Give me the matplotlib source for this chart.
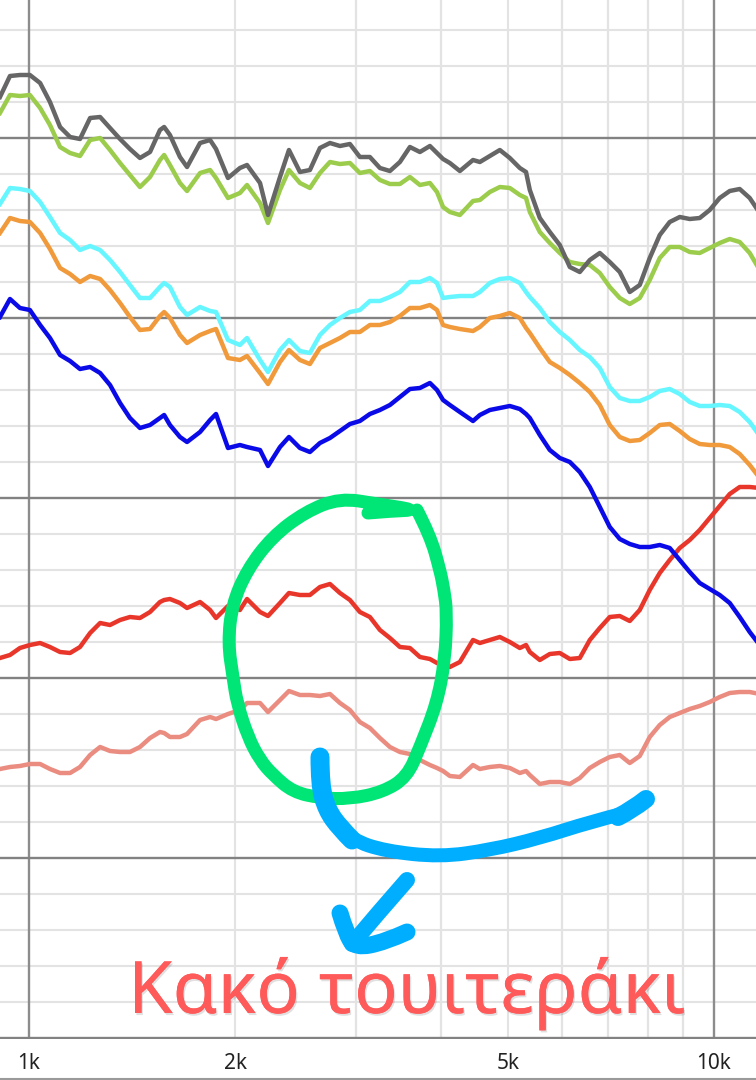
import matplotlib
matplotlib.use("Agg")
import matplotlib.pyplot as plt
import matplotlib.patheffects as pe
from matplotlib.path import Path
from matplotlib.patches import PathPatch

# Frequency grid (Hz)
freq = [907, 938, 970, 1003, 1038, 1073, 1110, 1148, 1187, 1228, 1270, 1313, 1358, 1404, 1452, 1502,
        1553, 1575, 1606, 1661, 1701, 1777, 1838, 1875, 1952, 2032, 2081, 2174, 2233, 2325, 2396, 2486,
        2571, 2659, 2750, 2844, 2941, 3041, 3145, 3253, 3364, 3479, 3598, 3721, 3848, 3941, 4022, 4115,
        4256, 4448, 4552, 4707, 4868, 5034, 5206, 5316, 5384, 5568, 5758, 5955, 6159, 6369, 6587, 6812,
        7044, 7285, 7534, 7791, 8057, 8333, 8617, 8912, 9216, 9531, 9857, 10194, 10542, 10902, 11275, 11660]

# Curves, read as depth below the top edge of the unlabelled plot area
gray = [97, 76, 75, 75, 83, 102, 127, 137, 139, 118, 117, 128, 139, 149, 158, 152,
        130, 127, 135, 157, 167, 143, 140, 149, 178, 168, 165, 183, 215, 177, 150, 172,
        170, 148, 143, 146, 144, 157, 157, 168, 171, 162, 147, 152, 146, 153, 159, 163,
        171, 160, 162, 156, 150, 158, 168, 172, 190, 218, 232, 245, 267, 272, 260, 253,
        262, 272, 292, 285, 258, 235, 222, 217, 219, 218, 210, 198, 191, 189, 198, 213]
green = [113, 95, 96, 95, 108, 125, 147, 153, 156, 140, 138, 150, 163, 175, 187, 177,
         160, 155, 165, 183, 191, 173, 170, 178, 198, 193, 185, 203, 223, 190, 170, 183,
         188, 173, 162, 164, 163, 173, 171, 180, 184, 184, 177, 185, 183, 192, 207, 212,
         215, 201, 200, 192, 187, 188, 195, 198, 212, 232, 243, 253, 262, 264, 265, 273,
         287, 298, 304, 298, 280, 258, 247, 247, 252, 253, 248, 243, 239, 242, 253, 270]
cyan = [204, 188, 189, 191, 202, 217, 233, 240, 250, 246, 250, 260, 272, 285, 298, 298,
        287, 283, 287, 307, 315, 307, 311, 312, 340, 345, 338, 360, 372, 350, 340, 351,
        353, 335, 325, 318, 312, 310, 301, 301, 297, 292, 282, 282, 278, 283, 298, 297,
        296, 296, 292, 283, 279, 278, 283, 292, 297, 308, 322, 332, 340, 350, 357, 368,
        387, 398, 401, 401, 397, 391, 389, 394, 402, 406, 406, 405, 406, 412, 422, 436]
orange = [233, 218, 221, 222, 233, 249, 268, 274, 282, 276, 279, 290, 303, 317, 330, 329,
          316, 312, 318, 335, 343, 335, 331, 329, 358, 360, 356, 373, 384, 362, 350, 360,
          364, 348, 343, 338, 332, 332, 325, 325, 322, 316, 308, 308, 305, 310, 325, 327,
          329, 331, 327, 318, 316, 313, 318, 328, 333, 348, 362, 368, 375, 383, 392, 405,
          425, 437, 441, 440, 433, 425, 424, 431, 439, 444, 445, 445, 447, 454, 465, 478]
blue = [317, 299, 308, 310, 325, 338, 355, 361, 369, 367, 373, 385, 403, 418, 428, 425,
        418, 415, 425, 437, 442, 432, 420, 414, 448, 445, 447, 450, 466, 447, 437, 448,
        452, 443, 438, 431, 424, 421, 414, 410, 405, 397, 389, 388, 383, 390, 400, 405,
        412, 421, 415, 410, 408, 406, 409, 414, 418, 435, 450, 458, 462, 472, 487, 507,
        527, 539, 544, 547, 547, 545, 548, 560, 572, 583, 589, 595, 603, 617, 632, 645]
red = [658, 655, 648, 645, 643, 647, 652, 653, 647, 633, 623, 625, 620, 617, 618, 612,
       602, 600, 599, 603, 608, 602, 610, 618, 606, 610, 599, 612, 616, 603, 593, 595,
       595, 587, 584, 593, 600, 612, 617, 630, 638, 647, 648, 657, 659, 663, 665, 667,
       662, 640, 643, 640, 637, 642, 648, 645, 652, 660, 654, 653, 659, 658, 640, 628,
       617, 616, 621, 610, 590, 573, 560, 548, 540, 530, 518, 506, 494, 487, 487, 488]
pink = [769, 767, 766, 764, 764, 769, 773, 773, 767, 755, 747, 751, 752, 752, 747, 738,
        732, 733, 737, 737, 734, 720, 717, 719, 714, 710, 703, 703, 712, 700, 691, 695,
        695, 696, 694, 703, 710, 722, 728, 738, 747, 752, 754, 760, 765, 768, 771, 776,
        777, 765, 769, 767, 766, 768, 773, 771, 775, 784, 782, 782, 784, 778, 768, 762,
        757, 755, 763, 756, 737, 725, 717, 713, 709, 706, 702, 697, 693, 692, 692, 694]

tick_freqs = [1000, 2000, 5000, 10000]
tick_labels = ["1k", "2k", "5k", "10k"]
minor_freqs = [2000, 3000, 4000, 5000, 6000, 7000, 8000, 9000]
major_levels = [138, 318, 498, 678, 858, 1038]
minor_levels = [30, 66, 102, 174, 210, 246, 282, 354, 390, 426, 462, 534, 570, 606, 642,
                714, 750, 786, 822, 894, 930, 966, 1002]
caption = "Κακό τουιτεράκι"

# Hand-drawn marker strokes on the picture (image units)
circle_x = [368, 392, 417, 378, 340, 305, 272, 247, 232, 228, 233, 237, 248, 260, 273, 293, 320, 350,
            383, 407, 420, 437, 445, 447, 444, 440, 430, 417]
circle_y = [513, 511, 510, 504, 498, 512, 537, 570, 605, 643, 677, 703, 737, 760, 775, 792, 798, 799,
            792, 777, 747, 703, 660, 613, 590, 570, 535, 510]
swoosh_a_x = [320, 320, 327, 340, 352]
swoosh_a_y = [757, 785, 810, 828, 840]
swoosh_b_x = [340, 352, 385, 440, 490, 540, 590, 625]
swoosh_b_y = [828, 840, 851, 857, 850, 838, 822, 813]
swoosh_c_x = [618, 632, 646]
swoosh_c_y = [817, 810, 799]
shaft_x = [407, 378, 352]
shaft_y = [880, 913, 944]
head_x = [340, 346, 355, 385, 407]
head_y = [913, 933, 948, 942, 932]
base_x = [0, 756]
base_y = [1079, 1079]

fig = plt.figure(figsize=(7.56, 10.8), dpi=100, facecolor="white")
ax = fig.add_axes([0, 41 / 1080, 1, 1039 / 1080])
ax.set_xscale("log")
ax.set_xlim(907.1, 11516)
ax.set_ylim(1039, 0)

ax.set_xticks(tick_freqs)
ax.set_xticklabels(tick_labels, fontsize=15, family="Noto Sans", color="#222222")
ax.set_xticks(minor_freqs, minor=True)
ax.set_xticklabels([""] * len(minor_freqs), minor=True)
ax.set_yticks(major_levels)
ax.set_yticklabels([])
ax.set_yticks(minor_levels, minor=True)
ax.tick_params(which="both", length=0, pad=10)
ax.grid(which="minor", color="#e3e3e3", lw=1.5, zorder=1)
ax.set_axisbelow(True)
for f in minor_freqs:
    ax.axvline(f, color="#e3e3e3", lw=1.5, zorder=1)
for f in (1000, 10000):
    ax.axvline(f, color="#8c8c8c", lw=1.7, zorder=1.5)
for lv in major_levels:
    ax.axhline(lv, color="#828282", lw=1.7, zorder=1.5)
for s in ax.spines.values():
    s.set_visible(False)

for series, col in [(pink, "#ea8c80"), (red, "#e8362b"), (orange, "#f09a3c"),
                    (cyan, "#66f6ff"), (blue, "#0a0ae8"), (green, "#9ccc4c"), (gray, "#666666")]:
    ax.plot(freq, series, color=col, lw=3.2, solid_joinstyle="round", zorder=3)

over = fig.add_axes([0, 0, 1, 1], facecolor="none")
over.set_xlim(0, 756)
over.set_ylim(1080, 0)
over.axis("off")
px = 0.72


def stroke(xs, ys, color, width):
    """Draw a hand-drawn stroke as a quadratic curve through the stroke's vertices."""
    verts = [(xs[0], ys[0])]
    codes = [Path.MOVETO]
    for i in range(1, len(xs) - 1):
        verts.append((xs[i], ys[i]))
        codes.append(Path.CURVE3)
        end = (xs[-1], ys[-1]) if i == len(xs) - 2 else ((xs[i] + xs[i + 1]) / 2, (ys[i] + ys[i + 1]) / 2)
        verts.append(end)
        codes.append(Path.CURVE3)
    over.add_patch(PathPatch(Path(verts, codes), facecolor="none", edgecolor=color,
                             lw=width * px, capstyle="round", joinstyle="round"))


over.plot(base_x, base_y, color="#9a9a9a", lw=1.5)
stroke(circle_x, circle_y, "#00e676", 13)
stroke(swoosh_a_x, swoosh_a_y, "#00aeff", 19)
stroke(swoosh_b_x, swoosh_b_y, "#00aeff", 14)
stroke(swoosh_c_x, swoosh_c_y, "#00aeff", 18)
stroke(shaft_x, shaft_y, "#00aeff", 16)
stroke(head_x, head_y, "#00aeff", 17)
t = over.text(128, 1013, caption, color="#ff5a5a", fontsize=52, family="Noto Sans",
              ha="left", va="baseline")
t.set_path_effects([pe.withSimplePatchShadow(offset=(1, -1.5), shadow_rgbFace="#000000", alpha=0.12),
                    pe.Normal()])

fig.savefig("out.png", dpi=100)
